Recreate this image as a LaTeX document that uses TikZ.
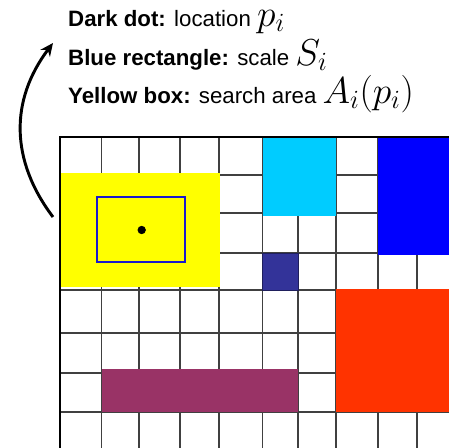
\RequirePackage{fix-cm}
\documentclass[tikz,border=0pt]{standalone}
\usepackage{fontspec}
\setmainfont{Liberation Sans}
\usetikzlibrary{arrows.meta}

\definecolor{areayellow}{RGB}{255,255,0}
\definecolor{tilecyan}{RGB}{0,204,255}
\definecolor{tileblue}{RGB}{0,0,255}
\definecolor{tilenavy}{RGB}{51,51,153}
\definecolor{tilered}{RGB}{255,51,0}
\definecolor{tileplum}{RGB}{153,51,102}
\definecolor{scaleblue}{RGB}{26,26,204}

\newcommand{\bigmath}[1]{{\fontsize{32}{34}\selectfont$#1$}}

\begin{document}
\begin{tikzpicture}[
    x=0.03cm, y=-0.03cm,
    every node/.style={font=\fontsize{19}{22}\selectfont},
    legend/.style={
        anchor=base west,
        inner sep=0pt
    },
    gridline/.style={black!75, line width=1pt},
    border/.style={black, line width=2pt},
    arrow/.style={-{Stealth[length=11pt,width=10pt]}, line width=2.5pt}
]

\useasboundingbox (0,0) rectangle (449,447);
\clip (0,0) rectangle (449,447);

% Legend
\node[legend] (dotlabel) at (68,26) {\textbf{Dark dot:} location \bigmath{p_i}};
\node[legend] (scalelabel) at (68,65) {\textbf{Blue rectangle:} scale \bigmath{S_i}};
\node[legend] (arealabel) at (68,103) {\textbf{Yellow box:} search area \bigmath{A_i(p_i)}};

% Grid
\foreach \x in {101.7,139,180,219,262.5,298,336,378,417}
    \draw[gridline] (\x,137) -- (\x,460);
\foreach \y in {175,213,253,290,333,373,412}
    \draw[gridline] (60,\y) -- (460,\y);

% Tiles
\fill[areayellow] (60,173) rectangle (219.5,287);
\fill[tilecyan] (262.5,137) rectangle (336,216);
\fill[tileblue] (378,137) rectangle (460,255);
\filldraw[fill=tilenavy, draw=tilenavy!60!black, line width=0.8pt] (262.5,253) rectangle (298,290);
\fill[tilered] (336,289) rectangle (460,412);
\fill[tileplum] (101.7,369) rectangle (298,412);

% Border
\draw[border] (60,460) -- (60,137) -- (460,137);

% Scale and location
\draw[scaleblue, line width=1.7pt] (97.3,196.7) rectangle (185,262.3);
\node[circle, fill=black, inner sep=0pt, minimum size=0.25cm] (dot) at (141.7,230) {};

% Arrow
\coordinate (arrowstart) at (53,217);
\coordinate (arrowend) at (53,43);
\draw[arrow] (arrowstart) .. controls (10,160) and (10,100) .. (arrowend);

\end{tikzpicture}
\end{document}
